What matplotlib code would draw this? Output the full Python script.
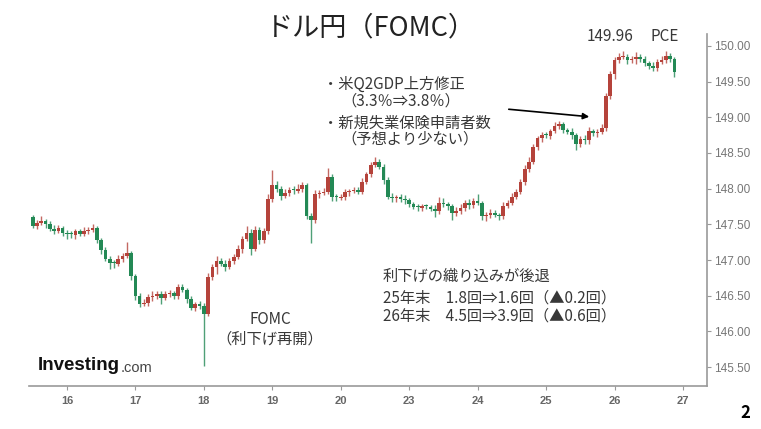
import matplotlib
matplotlib.use("Agg")
import matplotlib.pyplot as plt

plt.rcParams['font.family'] = ['Noto Sans CJK JP', 'DejaVu Sans']

# 1.5時間足っぽいローソク (16本/日), 終値は前の足の始値につながる
first_open = 147.60
closes = [
    147.48, 147.52, 147.55, 147.50, 147.44, 147.41, 147.45, 147.38, 147.36, 147.35, 147.40, 147.37, 147.41, 147.42, 147.45, 147.28,
    147.14, 147.02, 146.96, 146.95, 147.02, 147.06, 147.10, 146.77, 146.50, 146.38, 146.40, 146.48, 146.50, 146.52, 146.47, 146.52,
    146.54, 146.50, 146.62, 146.58, 146.45, 146.33, 146.38, 146.36, 146.25, 146.76, 146.90, 146.99, 146.95, 146.90, 146.99, 147.04,
    147.15, 147.30, 147.38, 147.15, 147.42, 147.28, 147.40, 147.85, 148.05, 148.00, 147.90, 147.94, 147.98, 147.97, 148.00, 148.05,
    147.62, 147.56, 147.92, 147.94, 147.96, 148.17, 147.88, 147.87, 147.88, 147.95, 147.97, 147.98, 147.96, 148.10, 148.20, 148.33,
    148.38, 148.31, 148.12, 147.89, 147.87, 147.88, 147.86, 147.84, 147.78, 147.74, 147.73, 147.75, 147.74, 147.72, 147.68, 147.80,
    147.78, 147.75, 147.66, 147.68, 147.73, 147.80, 147.77, 147.83, 147.80, 147.61, 147.63, 147.66, 147.63, 147.61, 147.76, 147.80,
    147.89, 147.95, 148.10, 148.28, 148.38, 148.58, 148.71, 148.75, 148.74, 148.81, 148.88, 148.90, 148.82, 148.80, 148.75, 148.62,
    148.70, 148.68, 148.81, 148.78, 148.80, 148.85, 149.30, 149.60, 149.80, 149.84, 149.85, 149.80, 149.81, 149.84, 149.82, 149.76,
    149.72, 149.69, 149.77, 149.80, 149.86, 149.82, 149.63,
]
# ヒゲの長さ (銭)
wick_up = [
    3, 4, 6, 3, 4, 5, 4, 3, 4, 5, 3, 4, 5, 4, 6, 3,
    3, 4, 3, 4, 5, 4, 15, 3, 3, 4, 5, 4, 6, 5, 4, 5,
    4, 3, 5, 4, 3, 4, 3, 5, 4, 6, 5, 6, 4, 5, 4, 5,
    6, 4, 9, 5, 6, 4, 5, 8, 21, 6, 4, 5, 4, 6, 7, 5,
    3, 4, 6, 4, 5, 12, 3, 4, 5, 4, 3, 5, 4, 5, 4, 5,
    6, 3, 3, 4, 5, 3, 4, 5, 3, 4, 4, 3, 4, 3, 5, 8,
    7, 4, 3, 6, 5, 4, 5, 4, 9, 3, 4, 5, 4, 3, 5, 4,
    5, 4, 4, 5, 6, 4, 3, 5, 4, 3, 6, 5, 4, 3, 5, 3,
    4, 5, 6, 3, 4, 5, 4, 5, 5, 6, 8, 4, 5, 8, 5, 4,
    3, 5, 5, 6, 7, 4, 2,
]
wick_dn = [
    3, 4, 3, 5, 3, 4, 3, 5, 6, 4, 5, 4, 3, 4, 3, 4,
    5, 4, 8, 6, 4, 5, 3, 5, 6, 4, 3, 4, 5, 4, 9, 3,
    4, 5, 4, 3, 5, 3, 4, 5, 73, 3, 4, 10, 4, 5, 3, 4,
    3, 5, 4, 8, 3, 5, 4, 3, 4, 5, 6, 3, 4, 5, 3, 4,
    5, 32, 4, 5, 3, 4, 5, 4, 3, 4, 5, 3, 4, 3, 4, 3,
    3, 4, 5, 4, 5, 6, 4, 5, 4, 3, 5, 4, 3, 4, 8, 3,
    4, 5, 10, 4, 3, 4, 5, 4, 3, 5, 6, 4, 3, 5, 4, 3,
    3, 4, 3, 5, 4, 3, 4, 5, 3, 4, 3, 5, 4, 3, 5, 8,
    4, 6, 5, 4, 5, 3, 4, 5, 6, 4, 3, 5, 4, 6, 5, 4,
    5, 4, 4, 3, 4, 5, 6,
]
day_labels = ['16', '17', '18', '19', '20', '23', '24', '25', '26', '27']
y_ticks = [145.5, 146.0, 146.5, 147.0, 147.5, 148.0, 148.5, 149.0, 149.5, 150.0]

bars_per_day = 16
start = 0.5  # 15日の途中から

up_col = '#b5433b'
dn_col = '#238955'

fig = plt.figure(figsize=(7.61, 4.29), dpi=100)
ax = fig.add_axes([0.038, 0.100, 0.891, 0.821])

opens = [first_open] + closes[:-1]
for i, (o, c) in enumerate(zip(opens, closes)):
    x = start + i / bars_per_day
    col = up_col if c >= o else dn_col
    hi = max(o, c) + wick_up[i] / 100
    lo = min(o, c) - wick_dn[i] / 100
    ax.vlines(x, lo, hi, color=col, lw=1.0, alpha=0.8, zorder=2)
    h = c - o
    if abs(h) < 0.015:
        h = 0.015
    ax.bar(x, h, bottom=o, width=0.85 / bars_per_day, color=col, zorder=3)

ax.set_xlim(0.445, 10.35)
ax.set_ylim(145.234, 150.168)
ax.set_xticks(range(1, len(day_labels) + 1))
ax.set_xticklabels(day_labels)
ax.set_yticks(y_ticks)
ax.set_yticklabels([f'{v:.2f}' for v in y_ticks])
ax.yaxis.tick_right()
for s in ['top', 'left']:
    ax.spines[s].set_visible(False)
for s in ['bottom', 'right']:
    ax.spines[s].set_color('#999999')
    ax.spines[s].set_linewidth(1.2)
ax.tick_params(axis='both', colors='#999999', length=3, width=0.8)
ax.tick_params(axis='y', labelsize=8.5, labelcolor='#777777', pad=2)
ax.tick_params(axis='x', labelsize=8, labelcolor='#666666', pad=4)
for lab in ax.get_xticklabels():
    lab.set_fontfamily('Liberation Sans')
    lab.set_fontweight('bold')
for lab in ax.get_yticklabels():
    lab.set_fontfamily('Liberation Sans')

txt = '#383838'
fig.text(0.487, 0.935, 'ドル円（FOMC）', fontsize=19.5, ha='center', va='center', color='#222222')

fig.text(0.424, 0.803, '・米Q2GDP上方修正', fontsize=11, va='center', color=txt)
fig.text(0.449, 0.765, '（3.3％⇒3.8％）', fontsize=11, va='center', color=txt)
fig.text(0.424, 0.713, '・新規失業保険申請者数', fontsize=11, va='center', color=txt)
fig.text(0.449, 0.677, '（予想より少ない）', fontsize=11, va='center', color=txt)

ax.annotate('', xy=(592 / 761, 1 - 117 / 429), xytext=(506 / 761, 1 - 109 / 429),
            xycoords='figure fraction', textcoords='figure fraction',
            arrowprops=dict(arrowstyle='-|>', color='black', lw=1.2, mutation_scale=9))

fig.text(0.771, 0.916, '149.96', fontsize=11, va='center', color=txt)
fig.text(0.855, 0.916, 'PCE', fontsize=11, va='center', color=txt)

fig.text(0.355, 0.256, 'FOMC', fontsize=11, ha='center', va='center', color=txt)
fig.text(0.355, 0.210, '（利下げ再開）', fontsize=11, ha='center', va='center', color=txt)

fig.text(0.503, 0.357, '利下げの織り込みが後退', fontsize=11, va='center', color=txt)
fig.text(0.503, 0.306, '25年末　1.8回⇒1.6回（▲0.2回）', fontsize=11, va='center', color=txt)
fig.text(0.503, 0.263, '26年末　4.5回⇒3.9回（▲0.6回）', fontsize=11, va='center', color=txt)

fig.text(0.049, 0.148, 'Investing', fontsize=13.5, fontweight='bold', family='Liberation Sans',
         va='center', color='#111111')
fig.text(0.158, 0.143, '.com', fontsize=10.5, family='Liberation Sans', va='center', color='#444444')

fig.text(0.979, 0.037, '2', fontsize=12, fontweight='bold', ha='center', va='center', color='black')

fig.savefig('out.png', dpi=100)
